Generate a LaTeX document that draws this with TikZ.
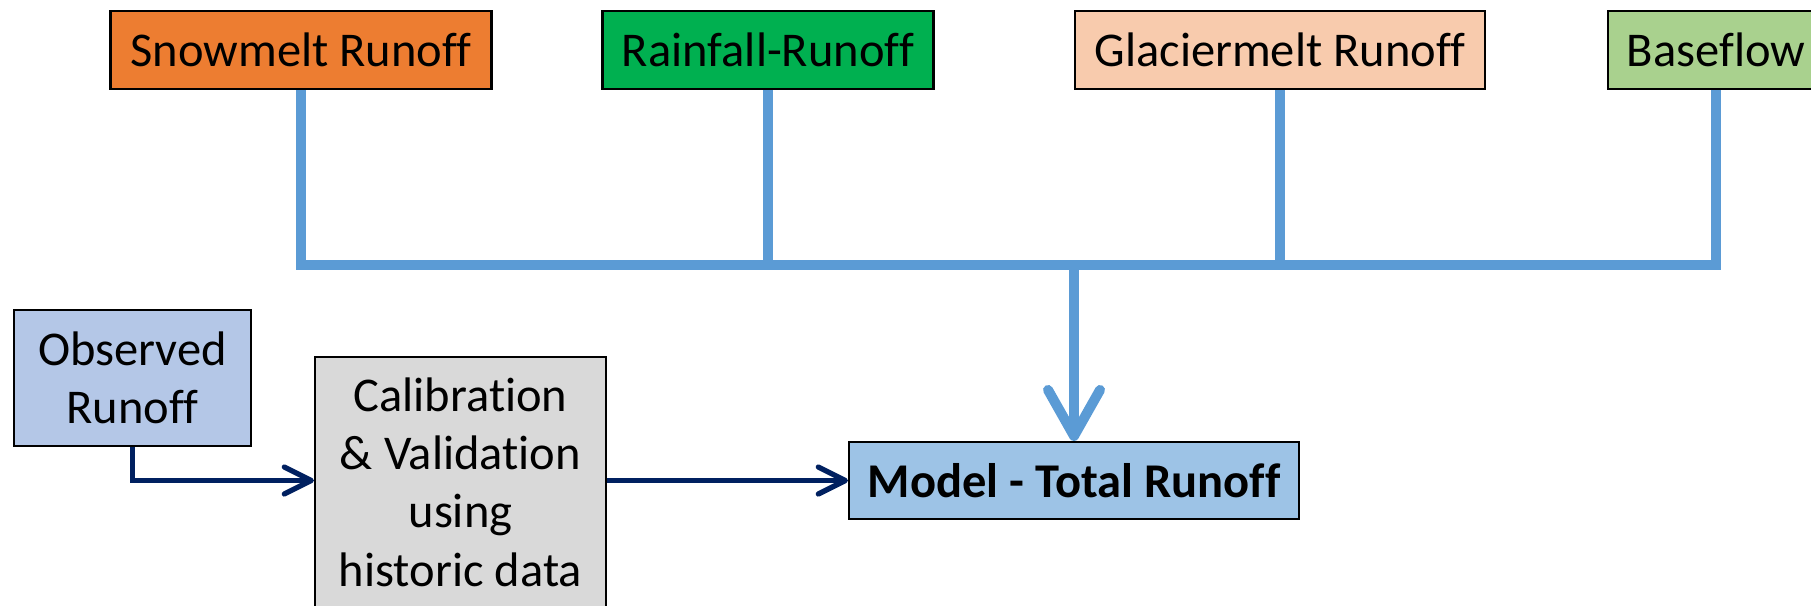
\documentclass[tikz,border=0pt]{standalone}
\usepackage{fontspec}
\setmainfont{Carlito}[Ligatures=NoCommon]
\usepackage{tikz}
\usetikzlibrary{positioning, arrows.meta}
\definecolor{snowc}{HTML}{ED7D31}
\definecolor{rainc}{HTML}{00B050}
\definecolor{glacc}{HTML}{F8CBAD}
\definecolor{basec}{HTML}{A9D18E}
\definecolor{obsc}{HTML}{B4C7E7}
\definecolor{calc}{HTML}{D9D9D9}
\definecolor{modc}{HTML}{9DC3E6}
\definecolor{feedc}{HTML}{5B9BD5}
\definecolor{navyc}{HTML}{002060}
\tikzset{%
    % boites du schema
    box/.style = {draw, line width=0.6pt, rectangle, inner sep=0pt,
    font=\fontsize{13.8}{16.6}\selectfont, text badly centered},
    % connecteurs
    feed/.style = {draw=feedc, line width=2.85pt},
    link/.style = {->, >={Straight Barb[length=2.7mm, width=2.7mm, line cap=round, line join=round]},
    draw=navyc, line width=1.5pt}
}
\begin{document}
\begin{tikzpicture}
	\useasboundingbox (0,0) rectangle (18.11,6.05);

	% placement des noeuds
	\node[box, fill=snowc, minimum width=3.81cm, minimum height=0.78cm] (snow) at (3.01,5.55) {Snowmelt Runoff};
	\node[box, fill=rainc, minimum width=3.31cm, minimum height=0.78cm] (rain) at (7.68,5.55) {Rainfall-Runoff};
	\node[box, fill=glacc, minimum width=4.10cm, minimum height=0.78cm] (glac) at (12.80,5.55) {Glaciermelt Runoff};
	\node[box, fill=basec, minimum width=2.16cm, minimum height=0.78cm] (base) at (17.16,5.55) {Baseflow};
	\node[box, fill=modc, minimum width=4.50cm, minimum height=0.77cm, font=\fontsize{13.8}{16.6}\selectfont\bfseries] (model) at (10.74,1.245) {Model - Total Runoff};
	\node[box, fill=obsc, minimum width=2.37cm, minimum height=1.36cm, text width=2.3cm] (obs) at (1.325,2.27) {Observed\\Runoff};
	\node[box, fill=calc, minimum width=2.91cm, minimum height=2.50cm, text width=2.8cm, anchor=north] (cal) at (4.605,2.49) {Calibration\\\& Validation\\using\\historic data};
	\coordinate (bus) at (0,3.40);

	% connecteurs
	\draw[feed] (snow.south) -- (snow.south |- bus) -- (base.south |- bus) -- (base.south);
	\draw[feed] (rain.south) -- (rain.south |- bus);
	\draw[feed] (glac.south) -- (glac.south |- bus);
	\draw[feed, -{Straight Barb[length=4.6mm, width=5.2mm, line cap=round, line join=round]}] (model.north |- bus) -- (model.north);
	\draw[link] (obs.south) |- (cal.west |- model.west);
	\draw[link] (cal.east |- model.west) -- (model.west);

\end{tikzpicture}
\end{document}
